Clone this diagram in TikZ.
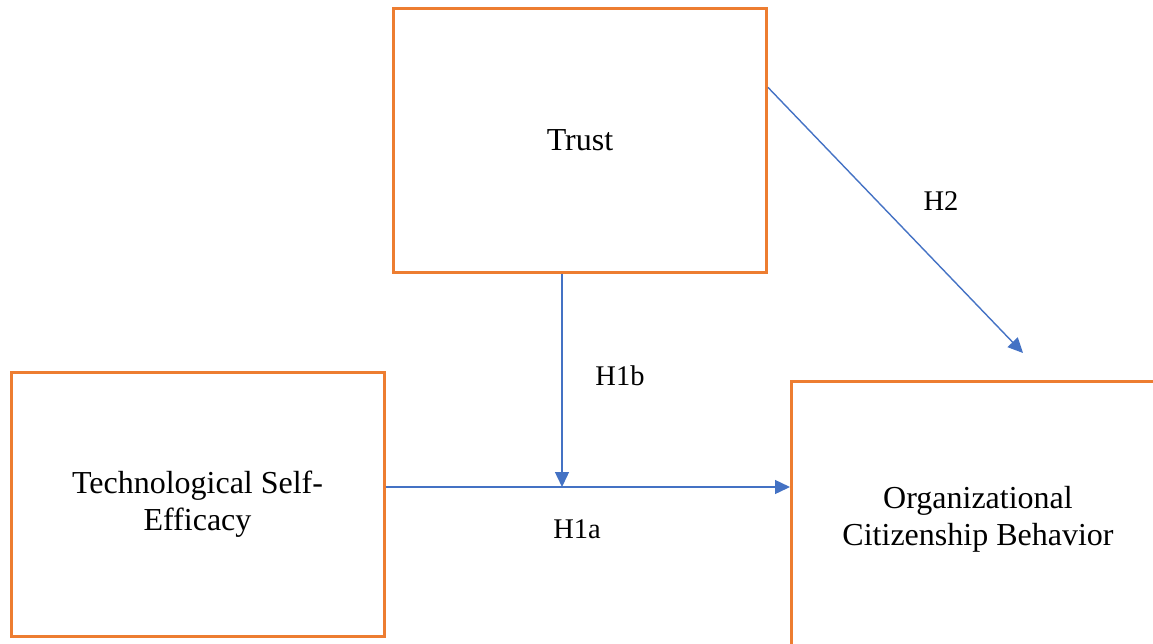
\documentclass[tikz,border=0pt]{standalone}
\usepackage{fontspec}
\setmainfont{Liberation Serif}
\usetikzlibrary{arrows.meta,calc}
\definecolor{boxorange}{HTML}{ED7D31}
\definecolor{arrowblue}{HTML}{4472C4}
\begin{document}
\begin{tikzpicture}[x=1pt,y=-1pt,
  varbox/.style={draw=boxorange,line width=3pt,minimum width=373pt,minimum height=264pt,
     align=center,inner sep=0pt,font=\fontsize{32}{37}\selectfont},
  conn/.style={draw=arrowblue,line width=1.4pt,-{Triangle[length=15pt,width=14pt]}},
  hlabel/.style={anchor=base,inner sep=0pt,font=\fontsize{28.5}{33}\selectfont}]
\useasboundingbox (0,0) rectangle (1153,643);
\begin{scope}
\clip (0,0) rectangle (1153,643);
\node[varbox] (Trust) at (580,140) {Trust};
\node[varbox] (Tech) at (197.5,504) {Technological Self-\\Efficacy};
\node[varbox,minimum height=276pt] (OCB) at (978,519) {Organizational\\Citizenship Behavior};
\end{scope}
\coordinate (j) at (562,487);
\coordinate (h2end) at (1023,353);
\draw[conn] (Trust.south -| j) -- (j);
\draw[conn] (Tech.east |- j) -- (OCB.west |- j);
\draw[conn] ($(Trust.north east)!0.303!(Trust.south east)$) -- (h2end);
\node[hlabel] (lh1b) at (620,385) {H1b};
\node[hlabel] (lh1a) at (577,538) {H1a};
\node[hlabel] (lh2) at (941,210) {H2};
\end{tikzpicture}
\end{document}
